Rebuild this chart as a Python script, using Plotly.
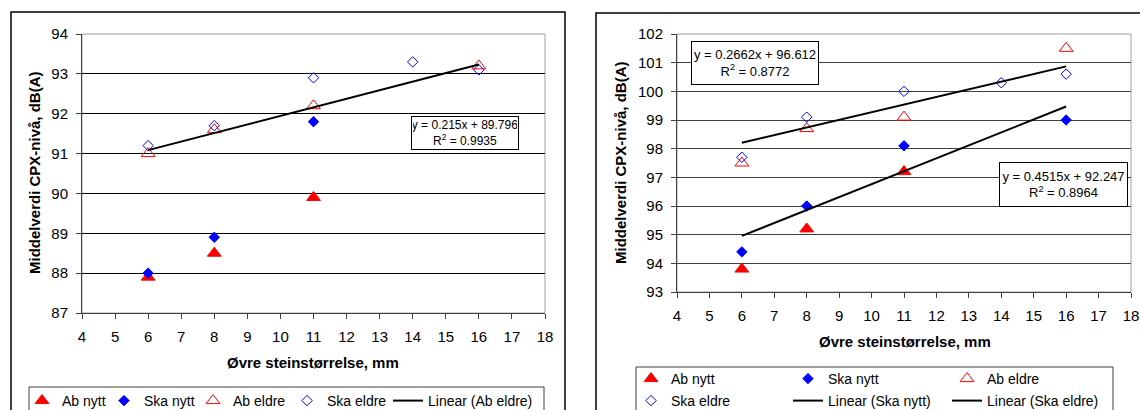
import numpy as np
import plotly.graph_objects as go

W, H = 1140, 410

# ---------------- data ----------------
x_ticks = list(range(4, 19))

# Left chart
L_ab_nytt_x = [6, 8, 11]
L_ab_nytt_y = [87.9, 88.5, 89.9]
L_ska_nytt_x = [6, 8, 11]
L_ska_nytt_y = [88.0, 88.9, 91.8]
L_ab_eldre_x = [6, 8, 11, 16]
L_ab_eldre_y = [91.0, 91.6, 92.2, 93.2]
L_ska_eldre_x = [6, 8, 11, 14, 16]
L_ska_eldre_y = [91.2, 91.7, 92.9, 93.3, 93.1]
L_y_ticks = list(range(87, 95))

# Right chart
R_ab_nytt_x = [6, 8, 11]
R_ab_nytt_y = [93.8, 95.2, 97.2]
R_ska_nytt_x = [6, 8, 11, 16]
R_ska_nytt_y = [94.4, 96.0, 98.1, 99.0]
R_ab_eldre_x = [6, 8, 11, 16]
R_ab_eldre_y = [97.5, 98.7, 99.1, 101.5]
R_ska_eldre_x = [6, 8, 11, 14, 16]
R_ska_eldre_y = [97.7, 99.1, 100.0, 100.3, 100.6]
R_y_ticks = list(range(93, 103))

eq_left = "y = 0.215x + 89.796<br>R<sup>2</sup> = 0.9935"
eq_right_eldre = "y = 0.2662x + 96.612<br>R<sup>2</sup> = 0.8772"
eq_right_nytt = "y = 0.4515x + 92.247<br>R<sup>2</sup> = 0.8964"

x_title = "Øvre steinstørrelse, mm"
y_title = "Middelverdi CPX-nivå, dB(A)"

# ---------------- helpers ----------------
FONT = "Arial, 'Liberation Sans', sans-serif"
RED = "#FF0000"
BLUE = "#0000FF"


def px(x):
    return x / W


def py(y):
    return 1 - y / H


def trend(xs, ys):
    k, m = np.polyfit(xs, ys, 1)
    xx = np.array([min(xs), max(xs)], dtype=float)
    return xx, k * xx + m


fig = go.Figure()
legend_layout = {}
legfont = dict(family=FONT, size=14, color="black")
LEG_TOP_OFFSET = 16  # text centre below legend top (px)


def add_legend(idx, text_x, text_y):
    key = "legend" if idx == 1 else "legend%d" % idx
    legend_layout[key] = dict(
        orientation="h", x=px(text_x - 40), y=py(text_y - LEG_TOP_OFFSET),
        xanchor="left", yanchor="top", font=legfont, bgcolor="rgba(0,0,0,0)",
        borderwidth=0, itemclick=False, itemdoubleclick=False)
    return key


def markers(xs, ys, name, symbol, color, size, xa, ya, legend):
    fig.add_trace(go.Scatter(
        x=xs, y=ys, mode="markers", name=name, xaxis=xa, yaxis=ya, legend=legend,
        marker=dict(symbol=symbol, color=color, size=size,
                    line=dict(color=color, width=1)),
        hoverinfo="x+y"))


def line(xs, ys, name, xa, ya, legend):
    tx, ty = trend(xs, ys)
    fig.add_trace(go.Scatter(
        x=tx, y=ty, mode="lines", name=name, xaxis=xa, yaxis=ya, legend=legend,
        line=dict(color="black", width=2)))


# Left chart traces (legend items in one row)
markers(L_ab_nytt_x, L_ab_nytt_y, "Ab nytt", "triangle-up", RED, 12, "x", "y", add_legend(1, 62, 401))
markers(L_ska_nytt_x, L_ska_nytt_y, "Ska nytt", "diamond", BLUE, 8, "x", "y", add_legend(2, 144, 401))
markers(L_ab_eldre_x, L_ab_eldre_y, "Ab eldre", "triangle-up-open", RED, 12, "x", "y", add_legend(3, 233, 401))
markers(L_ska_eldre_x, L_ska_eldre_y, "Ska eldre", "diamond-open", BLUE, 8, "x", "y", add_legend(4, 327, 401))
line(L_ab_eldre_x, L_ab_eldre_y, "Linear (Ab eldre)", "x", "y", add_legend(5, 428, 401))

# Right chart traces (legend items in two rows of three)
markers(R_ab_nytt_x, R_ab_nytt_y, "Ab nytt", "triangle-up", RED, 12, "x2", "y2", add_legend(6, 671, 379))
markers(R_ska_nytt_x, R_ska_nytt_y, "Ska nytt", "diamond", BLUE, 8, "x2", "y2", add_legend(7, 828, 379))
markers(R_ab_eldre_x, R_ab_eldre_y, "Ab eldre", "triangle-up-open", RED, 12, "x2", "y2", add_legend(8, 987, 379))
markers(R_ska_eldre_x, R_ska_eldre_y, "Ska eldre", "diamond-open", BLUE, 8, "x2", "y2", add_legend(9, 671, 401))
line(R_ska_nytt_x, R_ska_nytt_y, "Linear (Ska nytt)", "x2", "y2", add_legend(10, 828, 401))
line(R_ska_eldre_x, R_ska_eldre_y, "Linear (Ska eldre)", "x2", "y2", add_legend(11, 987, 401))

AX = "#404040"
tickfont = dict(family=FONT, size=15, color="black")


def xaxis(domain, anchor):
    return dict(domain=domain, anchor=anchor, range=[4, 18], tickvals=x_ticks,
                ticks="outside", ticklen=5, tickcolor=AX, showline=True, linecolor=AX,
                linewidth=1, showgrid=False, zeroline=False, tickfont=tickfont,
                ticklabelstandoff=5, automargin=False, fixedrange=True)


def yaxis(domain, anchor, rng, ticks, gridcolor):
    return dict(domain=domain, anchor=anchor, range=rng, tickvals=ticks,
                ticks="outside", ticklen=5, tickcolor=AX, showline=True, linecolor=AX,
                linewidth=1, showgrid=True, gridcolor=gridcolor, gridwidth=1,
                zeroline=False, tickfont=tickfont, ticklabelstandoff=5,
                automargin=False, fixedrange=True)


fig.update_layout(
    width=W, height=H, autosize=False,
    margin=dict(l=0, r=0, t=0, b=0, pad=0, autoexpand=False),
    paper_bgcolor="white", plot_bgcolor="white",
    xaxis=xaxis([px(82), px(545)], "y"),
    yaxis=yaxis([py(313), py(34)], "x", [87, 94], L_y_ticks, "black"),
    xaxis2=xaxis([px(677), px(1131)], "y2"),
    yaxis2=yaxis([py(292), py(34)], "x2", [93, 102], R_y_ticks, "#404040"),
    showlegend=True,
    **legend_layout,
)

shapes = []
# outer chart frames
shapes.append(dict(type="rect", xref="paper", yref="paper", x0=px(11), x1=px(565),
                   y0=-0.05, y1=py(12), line=dict(color="black", width=1.5), layer="below"))
shapes.append(dict(type="rect", xref="paper", yref="paper", x0=px(596), x1=1.05,
                   y0=-0.05, y1=py(13), line=dict(color="black", width=1.5), layer="below"))
# plot area borders (grey)
for xr, yr in (("x", "y"), ("x2", "y2")):
    shapes.append(dict(type="rect", xref=xr + " domain", yref=yr + " domain",
                       x0=0, x1=1, y0=0, y1=1, line=dict(color="#A0A0A0", width=1),
                       layer="below"))
# legend boxes
shapes.append(dict(type="rect", xref="paper", yref="paper", x0=px(29), x1=px(544),
                   y0=-0.05, y1=py(387), line=dict(color="#404040", width=1), layer="below"))
shapes.append(dict(type="rect", xref="paper", yref="paper", x0=px(636), x1=px(1113),
                   y0=-0.05, y1=py(367), line=dict(color="#404040", width=1), layer="below"))
fig.update_layout(shapes=shapes)

ann = []
titlefont = dict(family=FONT, size=15, color="black")
# axis titles
ann.append(dict(text="<b>%s</b>" % x_title, xref="paper", yref="paper", x=px(313), y=py(362),
                showarrow=False, font=titlefont, xanchor="center", yanchor="middle"))
ann.append(dict(text="<b>%s</b>" % x_title, xref="paper", yref="paper", x=px(905), y=py(341),
                showarrow=False, font=titlefont, xanchor="center", yanchor="middle"))
ann.append(dict(text="<b>%s</b>" % y_title, xref="paper", yref="paper", x=px(35), y=py(173),
                showarrow=False, font=titlefont, textangle=-90, xanchor="center", yanchor="middle"))
ann.append(dict(text="<b>%s</b>" % y_title, xref="paper", yref="paper", x=px(620), y=py(163),
                showarrow=False, font=titlefont, textangle=-90, xanchor="center", yanchor="middle"))
# equation boxes
ann.append(dict(text=eq_left, xref="paper", yref="paper", x=px(464.5), y=py(132.5),
                showarrow=False, font=dict(family=FONT, size=12, color="black"),
                xanchor="center", yanchor="middle", bgcolor="white", bordercolor="black",
                borderwidth=1, borderpad=1, width=104, height=30))
ann.append(dict(text=eq_right_eldre, xref="paper", yref="paper", x=px(755), y=py(63),
                showarrow=False, font=dict(family=FONT, size=13, color="black"),
                xanchor="center", yanchor="middle", bgcolor="white", bordercolor="black",
                borderwidth=1, borderpad=1, width=124, height=40))
ann.append(dict(text=eq_right_nytt, xref="paper", yref="paper", x=px(1063.5), y=py(184.5),
                showarrow=False, font=dict(family=FONT, size=13, color="black"),
                xanchor="center", yanchor="middle", bgcolor="white", bordercolor="black",
                borderwidth=1, borderpad=1, width=125, height=41))
fig.update_layout(annotations=ann)

fig.write_html("out.html")
